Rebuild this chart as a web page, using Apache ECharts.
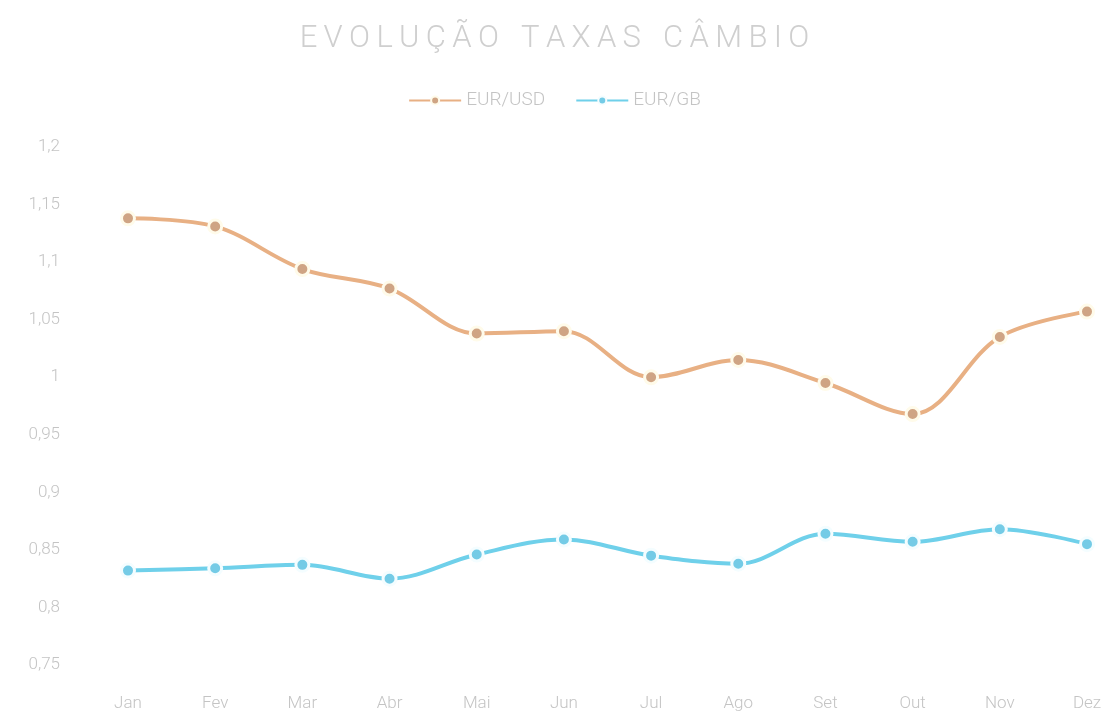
<!DOCTYPE html>
<html>
<head>
<meta charset="utf-8">
<script src="https://cdn.jsdelivr.net/npm/echarts@6/dist/echarts.min.js"></script>
<style>
html, body { margin: 0; padding: 0; background: #fff; }
#chart { width: 1109px; height: 718px; }
</style>
</head>
<body>
<div id="chart"></div>
<script>
// dados
const months = ['Jan', 'Fev', 'Mar', 'Abr', 'Mai', 'Jun', 'Jul', 'Ago', 'Set', 'Out', 'Nov', 'Dez'];
const eurUsd = [1.138, 1.131, 1.094, 1.077, 1.038, 1.040, 1.000, 1.015, 0.995, 0.968, 1.035, 1.057];
const eurGb = [0.832, 0.834, 0.837, 0.825, 0.846, 0.859, 0.845, 0.838, 0.864, 0.857, 0.868, 0.855];

const spaced = s => s.split('').join('\u2009');
const fmt = v => String(+v.toFixed(2)).replace('.', ',');

const chart = echarts.init(document.getElementById('chart'));
const txt = '#c4c4c4';
const fam = 'Roboto';

chart.setOption({
    animation: false,
    title: {
        text: spaced('EVOLUÇÃO') + '\u2002\u2009' + spaced('TAXAS') + '\u2002\u2009' + spaced('CÂMBIO'),
        left: 'center',
        top: 19,
        textStyle: { color: '#cfcfcf', fontSize: 31, fontWeight: 300, fontFamily: fam }
    },
    legend: {
        top: 86,
        left: 'center',
        itemWidth: 52,
        itemHeight: 10,
        itemGap: 30,
        textStyle: { color: txt, fontSize: 19, fontWeight: 300, fontFamily: fam },
        data: ['EUR/USD', 'EUR/GB']
    },
    grid: { left: 128, right: 22, top: 147, bottom: 53 },
    xAxis: {
        type: 'category',
        data: months,
        boundaryGap: false,
        axisLine: { show: false },
        axisTick: { show: false },
        axisLabel: { color: txt, fontSize: 17, fontWeight: 300, fontFamily: fam, margin: 30 }
    },
    yAxis: {
        type: 'value',
        min: 0.75,
        max: 1.2,
        interval: 0.05,
        splitLine: { show: false },
        axisLabel: { color: txt, fontSize: 17, fontWeight: 300, fontFamily: fam, margin: 68, formatter: fmt }
    },
    series: [
        {
            name: 'EUR/USD',
            type: 'line',
            smooth: 0.35,
            data: eurUsd,
            symbol: 'circle',
            symbolSize: 13,
            lineStyle: { color: '#e8b084', width: 4 },
            itemStyle: { color: '#cfa484', borderColor: '#fffbea', borderWidth: 3 }
        },
        {
            name: 'EUR/GB',
            type: 'line',
            smooth: 0.35,
            data: eurGb,
            symbol: 'circle',
            symbolSize: 13,
            lineStyle: { color: '#6fd0ea', width: 4 },
            itemStyle: { color: '#74cbe6', borderColor: '#f4fdff', borderWidth: 3 }
        }
    ]
});
</script>
</body>
</html>
